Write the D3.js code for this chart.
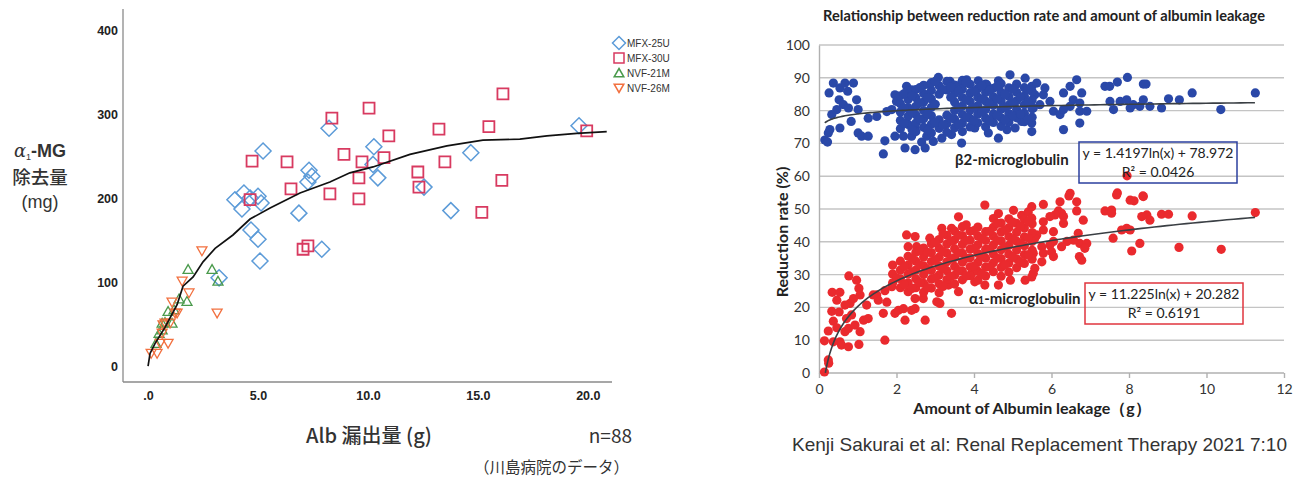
<!DOCTYPE html>
<html>
<head>
<meta charset="utf-8">
<script src="https://cdn.jsdelivr.net/npm/d3@7"></script>
<style>
  html, body { margin: 0; padding: 0; background: #fff; }
  svg { display: block; }
</style>
</head>
<body>
<script>
// ---------- Left panel: α1-MG removal vs albumin leakage (Kawashima Hospital) ----------
const leftXTicks = [0, 5, 10, 15, 20];
const leftYTicks = [0, 100, 200, 300, 400];
const leftSeriesNames = ["MFX-25U", "MFX-30U", "NVF-21M", "NVF-26M"];

// albumin leakage (g), α1-MG removal (mg)
const mfx25u = [
  [3.95,198],[4.36,206],[5.0,202],[5.14,194],[4.27,187],[4.64,200],[4.68,162],[5.0,151],
  [5.09,125],[6.86,182],[7.9,139],[3.23,105],[5.23,256],[7.32,233],[7.45,226],[7.27,219],
  [8.23,283],[10.27,261],[10.23,240],[10.45,224],[12.55,213],[13.77,185],[14.68,254],[19.6,286]
];
const mfx30u = [
  [4.73,244],[6.32,243],[6.5,211],[4.64,198],[8.36,295],[8.27,205],[7.05,139],[7.27,143],
  [10.05,307],[8.91,252],[10.95,274],[9.73,243],[10.73,248],[9.59,224],[9.59,199],[12.27,231],
  [12.32,213],[13.5,243],[13.23,282],[15.5,285],[16.14,324],[16.09,221],[15.18,183],[19.95,280]
];
const nvf21m = [
  [1.82,115],[2.91,115],[3.18,101],[1.41,80],[1.77,77],[0.91,65],[1.18,67],[0.64,51],
  [0.77,52],[1.09,51],[0.5,39],[0.36,27],[0.64,43]
];
const nvf26m = [
  [2.45,137],[1.55,101],[1.86,87],[1.09,76],[1.32,63],[1.23,63],[3.14,63],[0.77,51],
  [1.0,51],[0.68,49],[0.64,39],[0.55,27],[0.91,27],[0.14,15],[0.41,15]
];
// smoothed fit through all filters
const leftFit = [
  [0,0],[0.09,15],[0.32,27],[0.77,46],[1.32,73],[1.59,95],[2.05,106],[2.5,124],[3.05,140],
  [3.86,156],[4.64,175],[5.55,188],[6.91,206],[8.27,219],[9.18,230],[10.23,237],[11.91,252],
  [13.59,262],[15.23,269],[16.91,270],[18.14,274],[19.5,277],[20.86,279]
];

// ---------- Right panel: reduction rate vs albumin leakage (Sakurai et al.) ----------
const rightXTicks = [0, 2, 4, 6, 8, 10, 12];
const rightYTicks = [0, 10, 20, 30, 40, 50, 60, 70, 80, 90, 100];
const b2Fit = { a: 1.4197, b: 78.972, r2: "0.0426", from: 0.15, to: 11.25 };
const a1Fit = { a: 11.225, b: 20.282, r2: "0.6191", from: 0.165, to: 11.25 };

// β2-microglobulin reduction rate (%) by albumin leakage (g)
const b2m = [
  [0.15,71],[0.22,70.4],[0.26,85.4],[0.37,88.4],[0.54,86.9],[0.67,88.4],[0.89,88.4],[0.74,85.9],
  [0.52,83.3],[0.63,81.8],[0.76,80.8],[0.46,80.3],[0.97,83.3],[1.01,80.3],[0.33,78.8],[0.28,74.2],
  [0.24,73.2],[0.54,74.7],[0.83,76.7],[1.01,73.2],[1.1,72.2],[1.27,72.2],[1.27,77.7],[1.49,78.2],
  [1.7,70.8],[1.66,66.8],[1.75,79.7],[1.96,84.8],[2.0,82.8],[1.88,80.3],[1.96,72.2],[2.18,72.2],
  [2.22,68.6],[2.48,68.1],[2.39,72.2],[2.65,70.4],[2.74,68.6],[2.78,72.2],[2.48,74.7],[2.26,87.4],
  [2.39,86.3],[2.86,87.9],[3.08,90.1],[3.38,88.9],[3.68,88.4],[3.81,89.4],[4.11,89.1],[4.33,87.9],
  [4.63,89.1],[4.93,90.9],[5.1,88.1],[5.32,89.9],[5.49,87.4],[4.02,74.7],[4.37,73.2],[4.63,71.6],
  [4.85,74.2],[5.06,74.7],[3.68,70.1],[3.42,72.7],[3.17,71.6],[2.95,70.6],[5.23,76.7],
  [5.62,88.4],[5.83,86.9],[5.57,84.8],[5.79,84.8],[5.96,82.8],[5.7,81.8],[5.53,80.8],[6.05,79.8],
  [6.22,78.8],[6.31,85.4],[6.48,87.4],[6.65,89.4],[6.56,83.3],[6.78,85.4],[6.73,82.3],[6.48,81.3],
  [6.31,80.3],[6.73,79.8],[6.91,79.8],[6.31,74.2],[6.73,76.2],[5.49,76.2],[5.49,73.6],[7.38,87.4],
  [7.5,87.4],[7.7,88.7],[7.96,90.1],[8.37,88.1],[8.44,88.1],[7.51,82.8],[7.6,80.3],[7.77,82.8],
  [7.94,83.3],[8.03,80.8],[8.11,81.8],[8.28,81.3],[8.37,83.3],[8.54,81.3],[8.84,80.8],[9.02,83.6],
  [9.3,83.3],[9.63,85.4],[10.37,80.3],[11.26,85.4],
  [2.1,74.5],[2.1,77.0],[2.1,79.6],[2.1,82.1],[2.1,84.5],
  [2.3,75.8],[2.3,78.3],[2.3,80.9],[2.3,83.4],[2.3,86.0],
  [2.5,73.6],[2.5,76.2],[2.5,78.7],[2.5,81.3],[2.5,83.9],[2.5,86.4],
  [2.7,74.9],[2.7,77.5],[2.7,80.0],[2.7,82.6],[2.7,85.2],[2.7,87.7],
  [2.9,73.2],[2.9,75.8],[2.9,78.4],[2.9,81.0],[2.9,83.5],[2.9,86.1],[2.9,88.5],
  [3.1,74.6],[3.1,77.2],[3.1,85.0],[3.1,87.6],
  [3.3,73.4],[3.3,76.0],[3.3,78.6],[3.3,86.3],[3.3,88.9],
  [3.5,74.8],[3.5,77.4],[3.5,80.0],[3.5,82.6],[3.5,85.2],[3.5,87.8],
  [3.7,73.6],[3.7,76.2],[3.7,78.8],[3.7,81.4],[3.7,84.0],[3.7,86.6],[3.7,89.2],
  [3.9,75.0],[3.9,77.6],[3.9,80.2],[3.9,82.8],[3.9,85.4],[3.9,88.0],
  [4.1,76.3],[4.1,78.9],[4.1,81.5],[4.1,84.1],[4.1,86.7],
  [4.3,75.1],[4.3,77.7],[4.3,80.3],[4.3,82.9],[4.3,85.5],[4.3,88.1],
  [4.5,76.4],[4.5,79.0],[4.5,81.6],[4.5,84.2],[4.5,86.8],
  [4.7,75.2],[4.7,77.8],[4.7,80.4],[4.7,83.0],[4.7,85.6],[4.7,88.2],
  [4.9,76.5],[4.9,79.1],[4.9,81.7],[4.9,84.3],[4.9,86.9],
  [5.1,77.8],[5.1,80.4],[5.1,83.0],[5.1,85.6],
  [5.3,76.6],[5.3,79.2],[5.3,81.8],[5.3,84.4],[5.3,87.0],
  [5.5,78.0],[5.5,80.6],[5.5,83.2],[5.5,85.8],
  [2.2,76.1],[2.2,80.8],[2.2,85.2],[2.4,74.2],[2.4,79.5],[2.4,84.6],[2.6,77.4],[2.6,82.4],
  [2.6,87.0],[2.8,74.0],[2.8,79.2],[2.8,84.0],[3.0,76.4],[3.0,81.9],[3.0,88.9],[3.2,75.6],
  [3.2,86.4],[3.4,77.7],[3.4,84.1],[3.4,87.2],[3.6,75.8],[3.6,80.9],[3.6,86.0],[3.8,78.0],
  [3.8,83.3],[3.8,88.6],[4.0,76.9],[4.0,81.0],[4.0,85.9],[4.2,79.6],[4.2,83.5],[4.2,87.6],
  [4.4,77.0],[4.4,82.2],[4.4,86.2],[4.6,78.6],[4.6,83.6],[4.6,87.5],[4.8,77.1],[4.8,81.0],
  [4.8,85.0],[5.0,78.4],[5.0,82.4],[5.0,86.6],[5.2,79.0],[5.2,84.2],[5.4,77.4],[5.4,82.6],
  [5.4,86.4]
];

// α1-microglobulin reduction rate (%) by albumin leakage (g)
const a1m = [
  [0.14,0.3],[0.25,3],[0.24,4],[0.14,9.8],[0.24,12.8],[0.37,15.8],[0.33,18.8],[0.34,24.6],
  [0.54,24.6],[0.46,22.2],[0.52,18.6],[0.46,13.8],[0.37,9.5],[0.54,9.5],[0.58,8.5],[0.76,8.0],
  [0.67,12.6],[0.76,13.6],[0.71,16.6],[0.84,17.7],[0.8,21.2],[0.67,20.7],[0.89,22.7],[0.77,29.6],
  [0.97,28.3],[1.03,25.8],[1.06,23.8],[0.93,14.6],[1.06,12.6],[1.03,8.7],[1.15,16.1],[1.27,16.6],
  [1.23,20.7],[1.49,23.8],[1.53,22.2],[1.4,23.8],[1.66,18.2],[1.7,10.0],[1.75,21.6],[1.7,25.1],
  [1.88,26.3],[1.96,18.2],[2.05,19.1],[2.22,16.1],[2.26,42.1],[2.48,41.6],[2.3,38.5],[2.52,38.5],
  [2.18,19.6],[2.39,19.1],[2.48,19.6],[2.74,16.1],[2.48,22.7],[2.69,22.7],[2.86,41.1],[3.17,44.1],
  [3.12,21.2],[3.04,21.7],[3.42,18.2],[3.34,26.8],[3.6,24.8],[3.42,44.1],[3.6,47.6],[4.28,51.2],
  [4.63,48.6],[5.02,49.6],[5.23,48.1],[5.4,49.1],[4.94,28.3],[5.32,28.3],[5.49,29.3],[4.63,26.8],
  [4.28,26.8],[4.02,27.8],[3.94,30.3],
  [6.48,54.8],[6.22,52.2],[6.65,52.2],[5.79,51.4],[5.49,50.7],[6.18,49.4],[6.26,48.7],[6.31,47.7],
  [6.09,48.2],[6.65,49.4],[6.82,46.6],[6.31,45.6],[5.96,47.7],[5.79,46.1],[5.49,47.2],[5.79,43.6],
  [5.62,42.1],[6.05,43.1],[6.69,42.6],[6.73,39.5],[6.91,39.5],[6.86,38.0],[6.57,40.5],[6.4,40.1],
  [6.26,38.5],[6.05,40.1],[5.96,39.0],[5.75,38.5],[5.57,41.1],[5.53,36.5],[5.79,36.5],[6.0,37.0],
  [6.05,35.5],[5.75,33.9],[5.57,31.9],[5.53,30.4],[6.72,35.5],[6.78,34.4],[7.68,54.3],[8.37,53.8],
  [8.13,52.5],[7.38,49.4],[7.55,49.7],[7.55,48.7],[8.33,47.7],[8.46,48.2],[8.54,46.6],[8.84,48.4],
  [9.02,48.4],[9.63,47.9],[11.26,48.9],[7.94,44.1],[7.81,43.6],[8.03,43.6],[7.59,41.1],[8.28,39.5],
  [8.07,37.2],[9.29,38.3],[10.38,37.7],[7.95,60.1],[6.45,54.0],[7.7,54.9],[8.36,54.0],[8.03,52.7],
  [1.9,27.5],[1.9,30.2],[1.9,32.9],
  [2.1,26.0],[2.1,28.7],[2.1,31.4],[2.1,34.1],
  [2.3,24.8],[2.3,27.5],[2.3,30.2],[2.3,32.9],[2.3,35.6],
  [2.5,26.0],[2.5,28.7],[2.5,31.4],[2.5,34.1],[2.5,36.8],
  [2.7,24.6],[2.7,27.3],[2.7,30.0],[2.7,32.7],[2.7,35.4],[2.7,38.1],
  [2.9,25.9],[2.9,28.6],[2.9,31.3],[2.9,34.0],[2.9,36.7],[2.9,39.4],
  [3.1,24.5],[3.1,27.2],[3.1,29.9],[3.1,32.6],[3.1,35.3],[3.1,38.0],[3.1,40.7],
  [3.3,28.5],[3.3,31.2],[3.3,33.9],[3.3,36.6],[3.3,39.3],[3.3,42.0],
  [3.5,27.1],[3.5,29.8],[3.5,32.5],[3.5,35.2],[3.5,37.9],[3.5,40.6],[3.5,43.3],
  [3.7,28.4],[3.7,31.1],[3.7,33.8],[3.7,36.5],[3.7,39.2],[3.7,41.9],[3.7,44.6],
  [3.9,29.7],[3.9,32.4],[3.9,35.1],[3.9,37.8],[3.9,40.5],[3.9,43.2],
  [4.1,28.3],[4.1,31.0],[4.1,33.7],[4.1,36.4],[4.1,39.1],[4.1,41.8],[4.1,44.5],
  [4.3,29.6],[4.3,32.3],[4.3,35.0],[4.3,37.7],[4.3,40.4],[4.3,43.1],
  [4.5,30.9],[4.5,33.6],[4.5,36.3],[4.5,39.0],[4.5,41.7],[4.5,44.4],[4.5,47.1],
  [4.7,29.5],[4.7,32.2],[4.7,34.9],[4.7,37.6],[4.7,40.3],[4.7,43.0],[4.7,45.7],
  [4.9,30.8],[4.9,33.5],[4.9,36.2],[4.9,38.9],[4.9,41.6],[4.9,44.3],[4.9,47.0],
  [5.1,32.1],[5.1,34.8],[5.1,37.5],[5.1,40.2],[5.1,42.9],[5.1,45.6],
  [5.3,33.4],[5.3,36.1],[5.3,38.8],[5.3,41.5],[5.3,44.2],[5.3,46.9],
  [5.5,34.7],[5.5,37.4],[5.5,40.1],[5.5,42.8],[5.5,45.5],
  [2.0,29.0],[2.2,27.0],[2.2,32.5],[2.4,25.8],[2.4,30.8],[2.4,35.0],[2.6,27.6],[2.6,33.0],
  [2.6,37.4],[2.8,26.0],[2.8,31.6],[2.8,36.8],[3.0,29.0],[3.0,34.4],[3.0,39.8],[3.2,26.4],
  [3.2,31.8],[3.2,37.0],[3.2,42.4],[3.4,29.4],[3.4,34.8],[3.4,40.2],[3.6,31.2],[3.6,36.6],
  [3.6,42.0],[3.8,29.6],[3.8,35.0],[3.8,40.4],[3.8,45.2],[4.0,32.6],[4.0,38.0],[4.0,43.4],
  [4.2,30.2],[4.2,35.6],[4.2,41.0],[4.4,32.4],[4.4,37.8],[4.4,43.2],[4.6,35.0],[4.6,40.4],
  [4.6,45.6],[4.8,33.0],[4.8,38.4],[4.8,43.6],[5.0,35.4],[5.0,40.8],[5.0,46.0],[5.2,33.8],
  [5.2,39.4],[5.2,44.8],[5.4,36.0],[5.4,41.2],[5.4,46.2]
];

const W = 1302, H = 479;
const svg = d3.select("body").append("svg").attr("width", W).attr("height", H);

const JP = "'Noto Sans CJK JP', 'Noto Sans', sans-serif";
const SANS = "'Liberation Sans', Arial, sans-serif";
const CAL = "Lato, 'Open Sans', sans-serif";

// ======================= LEFT PANEL =======================
const xL = d3.scaleLinear().domain([-1.14, 21.1]).range([123, 612]);
const yL = d3.scaleLinear().domain([-19, 425]).range([382, 9]);
const gL = svg.append("g");

// axis lines
gL.append("line").attr("x1", xL.range()[0]).attr("x2", xL.range()[0])
  .attr("y1", yL.range()[1]).attr("y2", yL.range()[0])
  .attr("stroke", "#8a8a8a").attr("stroke-width", 1.3);
gL.append("line").attr("x1", xL.range()[0]).attr("x2", xL.range()[1])
  .attr("y1", yL.range()[0]).attr("y2", yL.range()[0])
  .attr("stroke", "#8a8a8a").attr("stroke-width", 1.3);

const yAxisL = gL.append("g").attr("transform", `translate(${xL.range()[0]},0)`)
  .call(d3.axisLeft(yL).tickValues(leftYTicks).tickSize(0).tickPadding(5).tickFormat(d3.format("d")));
const xAxisL = gL.append("g").attr("transform", `translate(0,${yL.range()[0]})`)
  .call(d3.axisBottom(xL).tickValues(leftXTicks).tickSize(0).tickPadding(9)
    .tickFormat(d => d === 0 ? ".0" : d.toFixed(1)));
[yAxisL, xAxisL].forEach(a => {
  a.select(".domain").remove();
  a.selectAll("text").attr("font-family", SANS).attr("font-size", 12.5)
    .attr("font-weight", "bold").attr("fill", "#222");
});

// symbols
const diamondPath = "M0,-8L8,0L0,8L-8,0Z";
const squarePath = "M-5.5,-5.5L5.5,-5.5L5.5,5.5L-5.5,5.5Z";
const triUpPath = "M0,-4.8L5,4L-5,4Z";
const triDownPath = "M0,4.8L5,-4L-5,-4Z";
const leftStyles = [
  { data: mfx25u, path: diamondPath, color: "#5c9bd8", sw: 1.5, lp: "M0,-6.5L6.5,0L0,6.5L-6.5,0Z" },
  { data: mfx30u, path: squarePath, color: "#d83a60", sw: 1.8, lp: "M-5,-5L5,-5L5,5L-5,5Z" },
  { data: nvf21m, path: triUpPath, color: "#4a9a4c", sw: 1.3, lp: "M0,-4.5L4.8,3.8L-4.8,3.8Z" },
  { data: nvf26m, path: triDownPath, color: "#f2703f", sw: 1.3, lp: "M0,4.5L4.8,-3.8L-4.8,-3.8Z" }
];

leftStyles.forEach(s => {
  gL.append("g").selectAll("path").data(s.data).join("path")
    .attr("d", s.path)
    .attr("transform", d => `translate(${xL(d[0])},${yL(d[1])})`)
    .attr("fill", "none").attr("stroke", s.color).attr("stroke-width", s.sw);
});

// fit curve
gL.append("path").datum(leftFit)
  .attr("d", d3.line().x(d => xL(d[0])).y(d => yL(d[1])))
  .attr("fill", "none").attr("stroke", "#111").attr("stroke-width", 1.7);

// legend
const legL = gL.append("g").attr("transform", "translate(619,43)");
leftSeriesNames.forEach((name, i) => {
  const row = legL.append("g").attr("transform", `translate(0,${i * 15})`);
  row.append("path").attr("d", leftStyles[i].lp).attr("fill", "none")
    .attr("stroke", leftStyles[i].color).attr("stroke-width", 1.5);
  row.append("text").attr("x", 8).attr("y", 3.5).text(name)
    .attr("font-family", SANS).attr("font-size", 10).attr("fill", "#333");
});

// y title
const yt = gL.append("text").attr("x", 40).attr("y", 157).attr("text-anchor", "middle")
  .attr("fill", "#333").attr("font-family", SANS).attr("font-size", 18).attr("font-weight", "bold");
yt.append("tspan").text("α").attr("font-family", "'DejaVu Serif', serif").attr("font-style", "italic").attr("font-weight", "normal");
yt.append("tspan").text("1").attr("font-size", 9).attr("dy", 3).attr("font-weight", "normal");
yt.append("tspan").text("-MG").attr("dy", -3);
gL.append("text").attr("x", 40).attr("y", 184).attr("text-anchor", "middle").text("除去量")
  .attr("fill", "#333").attr("font-family", JP).attr("font-size", 18.5).attr("font-weight", 500);
gL.append("text").attr("x", 40).attr("y", 208).attr("text-anchor", "middle").text("(mg)")
  .attr("fill", "#333").attr("font-family", SANS).attr("font-size", 18);

// x title and notes
gL.append("text").attr("x", 369).attr("y", 443).attr("text-anchor", "middle").text("Alb 漏出量 (g)")
  .attr("fill", "#333").attr("font-family", JP).attr("font-size", 20).attr("font-weight", 500);
gL.append("text").attr("x", 632).attr("y", 443).attr("text-anchor", "end").text("n=88")
  .attr("fill", "#333").attr("font-family", JP).attr("font-size", 19);
gL.append("text").attr("x", 629).attr("y", 473).attr("text-anchor", "end").text("（川島病院のデータ）")
  .attr("fill", "#333").attr("font-family", JP).attr("font-size", 15.5);

// ======================= RIGHT PANEL =======================
const xR = d3.scaleLinear().domain([0, 12]).range([819, 1284]);
const yR = d3.scaleLinear().domain([0, 100]).range([373, 45]);
const gR = svg.append("g");

// title
gR.append("text").attr("x", 1044).attr("y", 21).attr("text-anchor", "middle")
  .text("Relationship between reduction rate and amount of albumin leakage")
  .attr("font-family", CAL).attr("font-weight", "bold").attr("font-size", 14.6).attr("fill", "#222");

// gridlines
gR.append("g").selectAll("line").data(rightYTicks.filter(d => d > 0)).join("line")
  .attr("x1", xR(0)).attr("x2", xR(12)).attr("y1", d => yR(d)).attr("y2", d => yR(d))
  .attr("stroke", "#c4c4c4").attr("stroke-width", 1.4);

// axes
const yAxisR = gR.append("g").attr("transform", `translate(${xR(0)},0)`)
  .call(d3.axisLeft(yR).tickValues(rightYTicks).tickSize(0).tickPadding(9));
const xAxisR = gR.append("g").attr("transform", `translate(0,${yR(0)})`)
  .call(d3.axisBottom(xR).tickValues(rightXTicks).tickSize(5).tickPadding(6));
[yAxisR, xAxisR].forEach(a => {
  a.select(".domain").attr("stroke", "#b0b0b0").attr("stroke-width", 1.4);
  a.selectAll(".tick line").attr("stroke", "#b0b0b0").attr("stroke-width", 1.4);
  a.selectAll("text").attr("font-family", CAL).attr("font-size", 14).attr("fill", "#333");
});
xAxisR.select(".domain").attr("d", `M${xR(0)},0H${xR(12)}`);

// points
gR.append("g").selectAll("circle").data(b2m).join("circle")
  .attr("cx", d => xR(d[0])).attr("cy", d => yR(d[1])).attr("r", 4.6)
  .attr("fill", "#2a48a8");
gR.append("g").selectAll("circle").data(a1m).join("circle")
  .attr("cx", d => xR(d[0])).attr("cy", d => yR(d[1])).attr("r", 4.6)
  .attr("fill", "#ea2a2e");

// logarithmic trend lines from the stated equations
function trend(f) {
  const xs = d3.range(0, 121).map(i => f.from + (f.to - f.from) * Math.pow(i / 120, 2));
  return xs.map(x => [x, f.a * Math.log(x) + f.b]);
}
[b2Fit, a1Fit].forEach(f => {
  gR.append("path").datum(trend(f))
    .attr("d", d3.line().x(d => xR(d[0])).y(d => yR(d[1])))
    .attr("fill", "none").attr("stroke", "#3a3f44").attr("stroke-width", 1.6);
});

// series labels
gR.append("text").attr("x", 955).attr("y", 165).text("β2-microglobulin")
  .attr("font-family", CAL).attr("font-weight", "bold").attr("font-size", 15).attr("fill", "#222");
const a1t = gR.append("text").attr("x", 969).attr("y", 304)
  .attr("font-family", CAL).attr("font-weight", "bold").attr("font-size", 15).attr("fill", "#222");
a1t.append("tspan").text("α");
a1t.append("tspan").text("1").attr("font-size", 10.5);
a1t.append("tspan").text("-microglobulin");

// equation boxes
function eqBox(x, y, w, h, color, f) {
  gR.append("rect").attr("x", x).attr("y", y).attr("width", w).attr("height", h)
    .attr("fill", "none").attr("stroke", color).attr("stroke-width", 1.5);
  gR.append("text").attr("x", x + w / 2).attr("y", y + 16).attr("text-anchor", "middle")
    .text(`y = ${f.a}ln(x) + ${f.b}`)
    .attr("font-family", CAL).attr("font-size", 14).attr("fill", "#222");
  gR.append("text").attr("x", x + w / 2).attr("y", y + 35).attr("text-anchor", "middle")
    .text("R² = " + f.r2)
    .attr("font-family", CAL).attr("font-size", 14).attr("fill", "#222");
}
eqBox(1079, 142, 158, 41, "#2b3f9e", b2Fit);
eqBox(1085, 283, 158, 41, "#e0343e", a1Fit);

// axis titles
gR.append("text").attr("x", 1032).attr("y", 414).attr("text-anchor", "middle")
  .text("Amount of Albumin leakage（g）")
  .attr("font-family", CAL).attr("font-weight", "bold").attr("font-size", 16).attr("fill", "#222");
gR.append("text").attr("transform", "translate(788,232) rotate(-90)").attr("text-anchor", "middle")
  .text("Reduction rate (%)")
  .attr("font-family", CAL).attr("font-weight", "bold").attr("font-size", 16).attr("fill", "#222");

// source
gR.append("text").attr("x", 1287).attr("y", 451).attr("text-anchor", "end")
  .text("Kenji Sakurai et al: Renal Replacement Therapy 2021 7:10")
  .attr("font-family", SANS).attr("font-size", 19).attr("fill", "#333");
</script>
</body>
</html>
